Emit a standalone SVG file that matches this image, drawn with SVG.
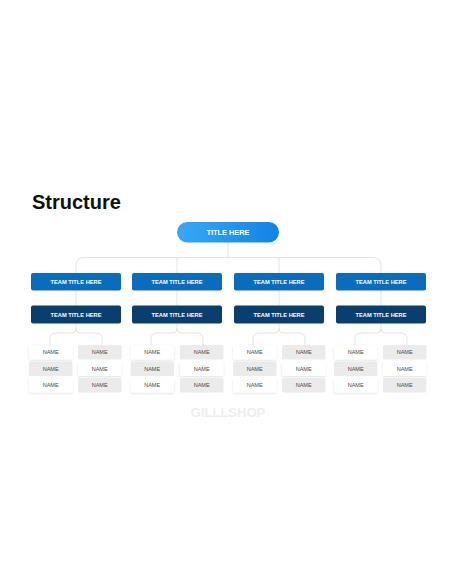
<svg xmlns="http://www.w3.org/2000/svg" width="456" height="586" viewBox="0 0 456 586">
<defs>
<linearGradient id="pill" x1="0" y1="0" x2="1" y2="0">
<stop offset="0" stop-color="#3aa8f6"/>
<stop offset="1" stop-color="#1282e6"/>
</linearGradient>
<filter id="sh" x="-20%" y="-30%" width="140%" height="170%">
<feDropShadow dx="0" dy="1" stdDeviation="1" flood-color="#000" flood-opacity="0.12"/>
</filter>
</defs>
<style>
.ln{fill:none;stroke:#dcdcdc;stroke-width:0.8}
.br{fill:none;stroke:#e2d9d3;stroke-width:0.8}
.t1{fill:#0b6cbc}
.t2{fill:#083f6e}
.tt{font-family:"Liberation Sans",Arial,sans-serif;font-weight:bold;font-size:5.6px;fill:#fff;text-anchor:middle}
.nw{fill:#fff;filter:url(#sh)}
.ng{fill:#ebebeb}
.nt{font-family:"Liberation Sans",Arial,sans-serif;font-size:5.2px;fill:#4a4a4a;text-anchor:middle}
</style>
<rect width="456" height="586" fill="#fff"/>
<text x="32" y="209" font-family="Liberation Sans,Arial,sans-serif" font-weight="bold" font-size="20" fill="#111">Structure</text>
<text x="228" y="417" font-family="Liberation Sans,Arial,sans-serif" font-weight="bold" font-size="13" fill="#eeeeee" text-anchor="middle">GILLLSHOP</text>
<g id="connectors">
<path class="ln" d="M228 242V257.5"/>
<path class="ln" d="M76 273V265.5Q76 257.5 84 257.5H373Q381 257.5 381 265.5V273"/>
<path class="ln" d="M177 257.5V273M279 257.5V273"/>
<path class="ln" d="M76 290V305M177 290V305M279 290V305M381 290V305"/>
<g class="br">
<path d="M76 323V329Q76 333 72 333H56Q50 333 50 339V345M76 329Q76 333 80 333H96Q102 333 102 339V345"/>
<path d="M177 323V329Q177 333 173 333H157Q151 333 151 339V345M177 329Q177 333 181 333H197Q203 333 203 339V345"/>
<path d="M279 323V329Q279 333 275 333H259Q253 333 253 339V345M279 329Q279 333 283 333H299Q305 333 305 339V345"/>
<path d="M381 323V329Q381 333 377 333H361Q355 333 355 339V345M381 329Q381 333 385 333H401Q407 333 407 339V345"/>
</g>
</g>
<g id="title">
<rect x="177" y="222" width="102" height="20.5" rx="10.25" fill="url(#pill)"/>
<text x="228" y="234.5" font-family="Liberation Sans,Arial,sans-serif" font-weight="bold" font-size="6.6" fill="#fff" text-anchor="middle" textLength="43" lengthAdjust="spacingAndGlyphs">TITLE HERE</text>
</g>
<g id="team1a"><rect class="t1" x="31" y="273" width="90" height="17.5" rx="2"/><text class="tt" x="76" y="283.8" textLength="51" lengthAdjust="spacingAndGlyphs">TEAM TITLE HERE</text></g>
<g id="team2a"><rect class="t1" x="132" y="273" width="90" height="17.5" rx="2"/><text class="tt" x="177" y="283.8" textLength="51" lengthAdjust="spacingAndGlyphs">TEAM TITLE HERE</text></g>
<g id="team3a"><rect class="t1" x="234" y="273" width="90" height="17.5" rx="2"/><text class="tt" x="279" y="283.8" textLength="51" lengthAdjust="spacingAndGlyphs">TEAM TITLE HERE</text></g>
<g id="team4a"><rect class="t1" x="336" y="273" width="90" height="17.5" rx="2"/><text class="tt" x="381" y="283.8" textLength="51" lengthAdjust="spacingAndGlyphs">TEAM TITLE HERE</text></g>
<g id="team1b"><rect class="t2" x="31" y="305.5" width="90" height="18" rx="2"/><text class="tt" x="76" y="316.5" textLength="51" lengthAdjust="spacingAndGlyphs">TEAM TITLE HERE</text></g>
<g id="team2b"><rect class="t2" x="132" y="305.5" width="90" height="18" rx="2"/><text class="tt" x="177" y="316.5" textLength="51" lengthAdjust="spacingAndGlyphs">TEAM TITLE HERE</text></g>
<g id="team3b"><rect class="t2" x="234" y="305.5" width="90" height="18" rx="2"/><text class="tt" x="279" y="316.5" textLength="51" lengthAdjust="spacingAndGlyphs">TEAM TITLE HERE</text></g>
<g id="team4b"><rect class="t2" x="336" y="305.5" width="90" height="18" rx="2"/><text class="tt" x="381" y="316.5" textLength="51" lengthAdjust="spacingAndGlyphs">TEAM TITLE HERE</text></g>
<g id="names1">
<rect class="nw" x="29" y="345" width="43.5" height="14.5" rx="1.5"/><text class="nt" x="50.7" y="354" textLength="16" lengthAdjust="spacingAndGlyphs">NAME</text>
<rect class="ng" x="29" y="361.5" width="43.5" height="14.5" rx="1.5"/><text class="nt" x="50.7" y="370.5" textLength="16" lengthAdjust="spacingAndGlyphs">NAME</text>
<rect class="nw" x="29" y="378" width="43.5" height="14.5" rx="1.5"/><text class="nt" x="50.7" y="387" textLength="16" lengthAdjust="spacingAndGlyphs">NAME</text>
<rect class="ng" x="78" y="345" width="43.5" height="14.5" rx="1.5"/><text class="nt" x="99.7" y="354" textLength="16" lengthAdjust="spacingAndGlyphs">NAME</text>
<rect class="nw" x="78" y="361.5" width="43.5" height="14.5" rx="1.5"/><text class="nt" x="99.7" y="370.5" textLength="16" lengthAdjust="spacingAndGlyphs">NAME</text>
<rect class="ng" x="78" y="378" width="43.5" height="14.5" rx="1.5"/><text class="nt" x="99.7" y="387" textLength="16" lengthAdjust="spacingAndGlyphs">NAME</text>
</g>
<g id="names2">
<rect class="nw" x="130.5" y="345" width="43.5" height="14.5" rx="1.5"/><text class="nt" x="152.2" y="354" textLength="16" lengthAdjust="spacingAndGlyphs">NAME</text>
<rect class="ng" x="130.5" y="361.5" width="43.5" height="14.5" rx="1.5"/><text class="nt" x="152.2" y="370.5" textLength="16" lengthAdjust="spacingAndGlyphs">NAME</text>
<rect class="nw" x="130.5" y="378" width="43.5" height="14.5" rx="1.5"/><text class="nt" x="152.2" y="387" textLength="16" lengthAdjust="spacingAndGlyphs">NAME</text>
<rect class="ng" x="180" y="345" width="43.5" height="14.5" rx="1.5"/><text class="nt" x="201.7" y="354" textLength="16" lengthAdjust="spacingAndGlyphs">NAME</text>
<rect class="nw" x="180" y="361.5" width="43.5" height="14.5" rx="1.5"/><text class="nt" x="201.7" y="370.5" textLength="16" lengthAdjust="spacingAndGlyphs">NAME</text>
<rect class="ng" x="180" y="378" width="43.5" height="14.5" rx="1.5"/><text class="nt" x="201.7" y="387" textLength="16" lengthAdjust="spacingAndGlyphs">NAME</text>
</g>
<g id="names3">
<rect class="nw" x="233" y="345" width="43.5" height="14.5" rx="1.5"/><text class="nt" x="254.7" y="354" textLength="16" lengthAdjust="spacingAndGlyphs">NAME</text>
<rect class="ng" x="233" y="361.5" width="43.5" height="14.5" rx="1.5"/><text class="nt" x="254.7" y="370.5" textLength="16" lengthAdjust="spacingAndGlyphs">NAME</text>
<rect class="nw" x="233" y="378" width="43.5" height="14.5" rx="1.5"/><text class="nt" x="254.7" y="387" textLength="16" lengthAdjust="spacingAndGlyphs">NAME</text>
<rect class="ng" x="282" y="345" width="43.5" height="14.5" rx="1.5"/><text class="nt" x="303.7" y="354" textLength="16" lengthAdjust="spacingAndGlyphs">NAME</text>
<rect class="nw" x="282" y="361.5" width="43.5" height="14.5" rx="1.5"/><text class="nt" x="303.7" y="370.5" textLength="16" lengthAdjust="spacingAndGlyphs">NAME</text>
<rect class="ng" x="282" y="378" width="43.5" height="14.5" rx="1.5"/><text class="nt" x="303.7" y="387" textLength="16" lengthAdjust="spacingAndGlyphs">NAME</text>
</g>
<g id="names4">
<rect class="nw" x="334" y="345" width="43.5" height="14.5" rx="1.5"/><text class="nt" x="355.7" y="354" textLength="16" lengthAdjust="spacingAndGlyphs">NAME</text>
<rect class="ng" x="334" y="361.5" width="43.5" height="14.5" rx="1.5"/><text class="nt" x="355.7" y="370.5" textLength="16" lengthAdjust="spacingAndGlyphs">NAME</text>
<rect class="nw" x="334" y="378" width="43.5" height="14.5" rx="1.5"/><text class="nt" x="355.7" y="387" textLength="16" lengthAdjust="spacingAndGlyphs">NAME</text>
<rect class="ng" x="383" y="345" width="43.5" height="14.5" rx="1.5"/><text class="nt" x="404.7" y="354" textLength="16" lengthAdjust="spacingAndGlyphs">NAME</text>
<rect class="nw" x="383" y="361.5" width="43.5" height="14.5" rx="1.5"/><text class="nt" x="404.7" y="370.5" textLength="16" lengthAdjust="spacingAndGlyphs">NAME</text>
<rect class="ng" x="383" y="378" width="43.5" height="14.5" rx="1.5"/><text class="nt" x="404.7" y="387" textLength="16" lengthAdjust="spacingAndGlyphs">NAME</text>
</g>
</svg>
